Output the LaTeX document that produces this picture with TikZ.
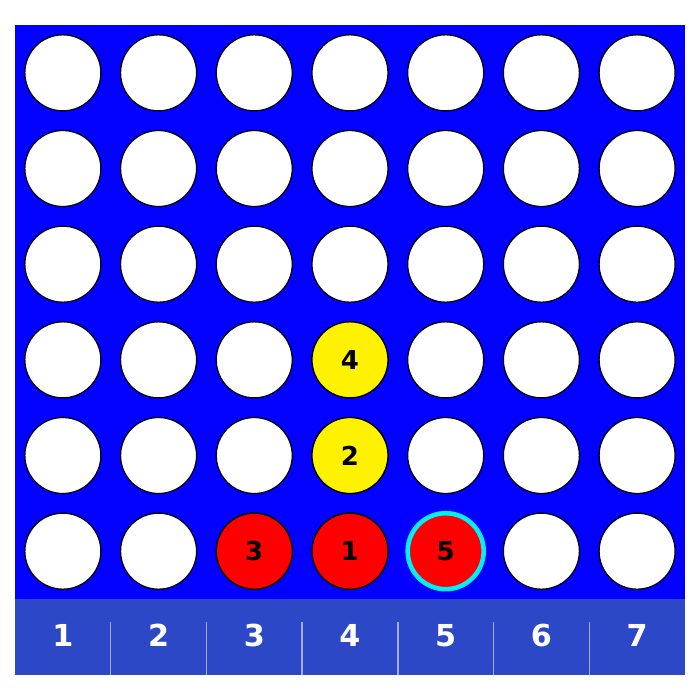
\documentclass[tikz,border=0pt]{standalone}
\usepackage{fontspec}
\setmainfont{DejaVu Sans}
\usepackage{xcolor}
\usetikzlibrary{positioning,calc}

\definecolor{boardblue}{RGB}{2,0,255}
\definecolor{barblue}{RGB}{44,72,198}
\definecolor{ringcyan}{RGB}{0,240,255}

\tikzset{
  hole/.style={circle, draw=black, line width=0.35pt, fill=white, minimum size=0.76cm, inner sep=0pt},
  redpiece/.style={hole, fill=red, font=\bfseries\fontsize{7.4}{8}\selectfont},
  yellowpiece/.style={hole, fill=yellow, font=\bfseries\fontsize{7.4}{8}\selectfont},
  lastmove/.style={draw=ringcyan, line width=1.3pt},
  collabel/.style={text=white, font=\bfseries\fontsize{8.6}{10}\selectfont}
}

\begin{document}
\begin{tikzpicture}
    \useasboundingbox (0,0) rectangle (7,7);
    % board and column bar
    \fill[boardblue] (0.15,1.01) rectangle (6.85,6.75);
    \fill[barblue] (0.15,0.25) rectangle (6.85,1.01);
    % empty holes
    \foreach \c in {1,...,7}
        \foreach \r in {1,...,6}
            \node[hole] (h\c\r) at ({0.15+(\c-0.5)*0.9571},{6.75-(\r-0.5)*0.9567}) {};
    % pieces
    \node[redpiece] (p1) at (h46) {1};
    \node[yellowpiece] (p2) at (h45) {2};
    \node[redpiece] (p3) at (h36) {3};
    \node[yellowpiece] (p4) at (h44) {4};
    \node[redpiece, lastmove] (p5) at (h56) {5};
    % column numbers
    \foreach \c in {1,...,7}
        \node[collabel] (col\c) at ({0.15+(\c-0.5)*0.9571},0.645) {\c};
    \foreach \k in {1,...,6}
        \draw[white, opacity=0.55, line width=0.4pt] ({0.15+\k*0.9571},0.25) -- ++(0,0.53);
\end{tikzpicture}
\end{document}
